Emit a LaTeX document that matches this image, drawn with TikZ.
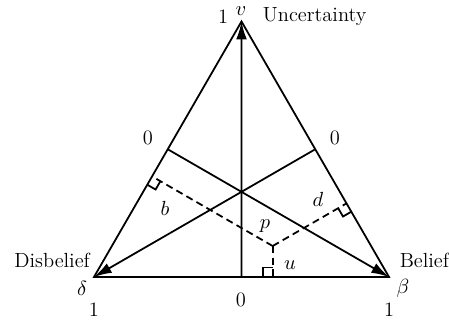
\documentclass[tikz,border=0pt]{standalone}
\usepackage{fix-cm}
\usepackage{amsmath,amssymb}
\usepackage{tikz}
\usetikzlibrary{calc,arrows.meta}

\begin{document}
\begin{tikzpicture}[line width=1pt,>={Latex[length=10pt,width=6pt]},
   font=\fontsize{11.5}{13.8}\selectfont,
   lbl/.style={inner sep=1pt},
   perp/.style={dash pattern=on 4pt off 2.5pt},
]
\useasboundingbox (-1.857,-0.85) rectangle (7.015,5.474);

% vertices and the opinion point
\coordinate (D) at (0,0);
\coordinate (B) at (5.83,0);
\coordinate (U) at (2.915,5.049);
\coordinate (p) at (3.531,0.613);

% triangle
\draw (D) -- (B) -- (U) -- cycle;

% axes from the side midpoints to the vertices
\coordinate (mb) at ($(D)!0.5!(B)$);
\coordinate (ml) at ($(D)!0.5!(U)$);
\coordinate (mr) at ($(B)!0.5!(U)$);
\draw[->] (mb) -- (U);
\draw[->] (mr) -- (D);
\draw[->] (ml) -- (B);

% feet of the perpendiculars through p
\coordinate (fb) at ($(D)!(p)!(U)$);
\coordinate (fd) at ($(B)!(p)!(U)$);
\coordinate (fu) at ($(D)!(p)!(B)$);
\draw[perp] (p) -- (fb);
\draw[perp] (p) -- (fd);
\draw[perp] (p) -- (fu);

% right angle marks
\foreach \f/\s in {fb/D,fd/B,fu/D}{
  \path ($(\f)!0.19cm!(\s)$) coordinate (ra) ($(\f)!0.19cm!(p)$) coordinate (re);
  \draw (ra) -- ($(ra)+(re)-(\f)$) -- (re);
}

% vertex labels
\node[lbl] (one1) at (2.55,5.14) {1};
\node[inner sep=0pt] (vv) at (2.905,5.25) {$v$};
\node[lbl,anchor=west] (unc) at (3.285,5.14) {Uncertainty};
\node[lbl,anchor=east] (dis) at (-0.03,0.336) {Disbelief};
\node[lbl] (dd) at (-0.237,-0.217) {$\delta$};
\node[lbl] (one2) at (0,-0.652) {1};
\node[lbl,anchor=west] (bel) at (5.99,0.336) {Belief};
\node[lbl] (bb) at (6.106,-0.217) {$\beta$};
\node[lbl] (one3) at (5.83,-0.652) {1};

% zero labels
\node[lbl] (z1) at (1.067,2.747) {0};
\node[lbl] (z2) at (4.762,2.747) {0};
\node[lbl] (z3) at (2.905,-0.454) {0};

% distances
\node[lbl] (lb) at (1.403,1.363) {$b$};
\node[lbl] (ld) at (4.426,1.541) {$d$};
\node[lbl] (lp) at (3.379,1.008) {$p$};
\node[lbl] (lu) at (3.873,0.237) {$u$};
\end{tikzpicture}
\end{document}
